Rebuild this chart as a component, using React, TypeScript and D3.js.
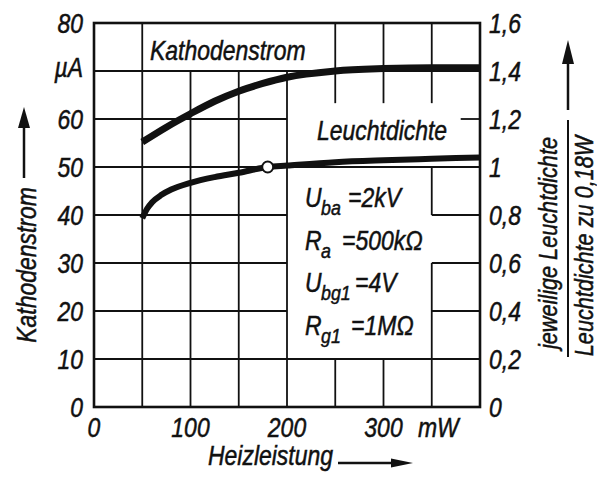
import * as d3 from 'd3';
import * as React from 'react';

// Kennlinien
const kathodenMW = [50, 75, 100, 125, 150, 175, 200, 250, 300, 350, 400];
const kathodenUA = [55.2, 58.3, 61.1, 63.7, 65.8, 67.4, 68.7, 70.0, 70.5, 70.7, 70.7];

const leuchtMW = [50, 55, 60, 70, 80, 100, 125, 150, 180, 200, 250, 300, 350, 400];
const leuchtRel = [0.786, 0.826, 0.852, 0.884, 0.906, 0.934, 0.958, 0.976, 1.0, 1.006, 1.02, 1.028, 1.034, 1.04];

const refPointMW = 180;
const refPointRel = 1;

const xTicks = [0, 100, 200, 300];
const yTicks = [0, 10, 20, 30, 40, 50, 60, 80];
const yRightTicks = ['0', '0,2', '0,4', '0,6', '0,8', '1', '1,2', '1,4', '1,6'];
const yRightValues = [0, 0.2, 0.4, 0.6, 0.8, 1, 1.2, 1.4, 1.6];

// grid pieces in data units (mW / µA); gaps leave room for the labels
const vGrid: [number, [number, number][]][] = [
  [50, [[0, 80]]],
  [100, [[0, 70]]],
  [150, [[0, 70]]],
  [200, [[0, 70]]],
  [250, [[0, 10], [63.3, 80]]],
  [300, [[0, 10], [63.3, 80]]],
  [350, [[0, 30], [40, 50], [63.3, 80]]],
];
const hGrid: [number, [number, number][]][] = [
  [10, [[0, 400]]],
  [20, [[0, 200], [350, 400]]],
  [30, [[0, 200], [350, 400]]],
  [40, [[0, 200], [350, 400]]],
  [50, [[0, 400]]],
  [60, [[0, 200], [380, 400]]],
  [70, [[0, 400]]],
];

const params = [
  { main: 'U', sub: 'ba', rest: '=2kV', restX: 348 },
  { main: 'R', sub: 'a', rest: '=500kΩ', restX: 342 },
  { main: 'U', sub: 'bg1', rest: '=4V', restX: 355 },
  { main: 'R', sub: 'g1', rest: '=1MΩ', restX: 351 },
];

const W = 597;
const H = 479;
const FONT = '"Liberation Sans", Arial, sans-serif';
const SX = 0.85; // squeeze to mimic the narrow DIN lettering
const INK = '#111';

type TProps = {
  x: number;
  y: number;
  size?: number;
  rot?: number;
  anchor?: 'start' | 'middle' | 'end';
  children: React.ReactNode;
};

const T = ({ x, y, size = 27, rot, anchor = 'start', children }: TProps) => (
  <text
    transform={`translate(${x},${y})${rot ? ` rotate(${rot})` : ''} scale(${SX},1)`}
    fontFamily={FONT}
    fontStyle="italic"
    fontSize={size}
    textAnchor={anchor}
    fill={INK}
    stroke={INK}
    strokeWidth={0.5}
  >
    {children}
  </text>
);

const Arrow = ({ x1, y1, x2, y2, head = 20, half = 6 }: { x1: number; y1: number; x2: number; y2: number; head?: number; half?: number }) => {
  const a = Math.atan2(y2 - y1, x2 - x1);
  const bx = x2 - head * Math.cos(a);
  const by = y2 - head * Math.sin(a);
  const px = -Math.sin(a) * half;
  const py = Math.cos(a) * half;
  return (
    <g>
      <line x1={x1} y1={y1} x2={bx} y2={by} stroke={INK} strokeWidth={2.5} />
      <path d={`M${x2},${y2}L${bx + px},${by + py}L${bx - px},${by - py}Z`} fill={INK} />
    </g>
  );
};

export default function App() {
  const x = d3.scaleLinear().domain([0, 400]).range([94, 480]);
  const y = d3.scaleLinear().domain([0, 80]).range([407, 23]);
  const yR = d3.scaleLinear().domain([0, 1.6]).range([407, 23]);

  const kLine = d3
    .line<number>()
    .x((_, i) => x(kathodenMW[i]))
    .y((d) => y(d))
    .curve(d3.curveMonotoneX)(kathodenUA);
  const lLine = d3
    .line<number>()
    .x((_, i) => x(leuchtMW[i]))
    .y((d) => yR(d))
    .curve(d3.curveMonotoneX)(leuchtRel);

  return (
    <svg width={W} height={H} style={{ position: 'absolute', left: 0, top: 0, background: '#fff' }}>
      <rect width={W} height={H} fill="#fff" />

      {/* grid */}
      <g stroke={INK} strokeWidth={1.8}>
        {vGrid.map(([v, spans]) =>
          spans.map(([a, b], j) => <line key={`v${v}-${j}`} x1={x(v)} x2={x(v)} y1={y(a)} y2={y(b)} />),
        )}
        {hGrid.map(([v, spans]) =>
          spans.map(([a, b], j) => <line key={`h${v}-${j}`} y1={y(v)} y2={y(v)} x1={x(a)} x2={x(b)} />),
        )}
      </g>
      <rect x={x(0)} y={y(80)} width={x(400) - x(0)} height={y(0) - y(80)} fill="none" stroke={INK} strokeWidth={2.6} />

      {/* curves */}
      <path d={kLine ?? ''} fill="none" stroke={INK} strokeWidth={7} />
      <path d={lLine ?? ''} fill="none" stroke={INK} strokeWidth={6} />
      <circle cx={x(refPointMW)} cy={yR(refPointRel)} r={5.5} fill="#fff" stroke={INK} strokeWidth={2} />

      {/* left ticks */}
      {yTicks.map((t) => (
        <T key={t} x={83} y={y(t) + 10} anchor="end">
          {t}
        </T>
      ))}
      <T x={83} y={77} anchor="end">
        µA
      </T>

      {/* right ticks */}
      {yRightValues.map((v, i) => (
        <T key={v} x={489} y={yR(v) + 10}>
          {yRightTicks[i]}
        </T>
      ))}

      {/* bottom ticks */}
      {xTicks.map((t) => (
        <T key={t} x={x(t)} y={437} anchor="middle">
          {t}
        </T>
      ))}
      <T x={418} y={437}>
        mW
      </T>

      {/* curve labels */}
      <T x={150} y={60}>
        Kathodenstrom
      </T>
      <T x={317} y={140}>
        Leuchtdichte
      </T>

      {/* parameters */}
      {params.map((p, i) => {
        const base = 207 + i * 42.5;
        return (
          <g key={i}>
            <T x={305} y={base}>
              {p.main}
            </T>
            <T x={321} y={base + 8} size={21}>
              {p.sub}
            </T>
            <T x={p.restX} y={base}>
              {p.rest}
            </T>
          </g>
        );
      })}

      {/* axis titles */}
      <T x={36} y={265} rot={-90} anchor="middle">
        Kathodenstrom
      </T>
      <Arrow x1={24} y1={178} x2={24} y2={107} head={21} half={6} />

      <T x={208} y={465}>
        Heizleistung
      </T>
      <Arrow x1={338} y1={463} x2={413} y2={463} head={22} half={4.5} />

      <T x={557} y={243} rot={-90} anchor="middle" size={25.5}>
        jeweilige Leuchtdichte
      </T>
      <line x1={568} x2={568} y1={120} y2={357} stroke={INK} strokeWidth={2} />
      <Arrow x1={568} y1={110} x2={568} y2={40} head={24} half={6} />
      <T x={593} y={246} rot={-90} anchor="middle" size={25.5}>
        Leuchtdichte zu 0,18W
      </T>
    </svg>
  );
}
